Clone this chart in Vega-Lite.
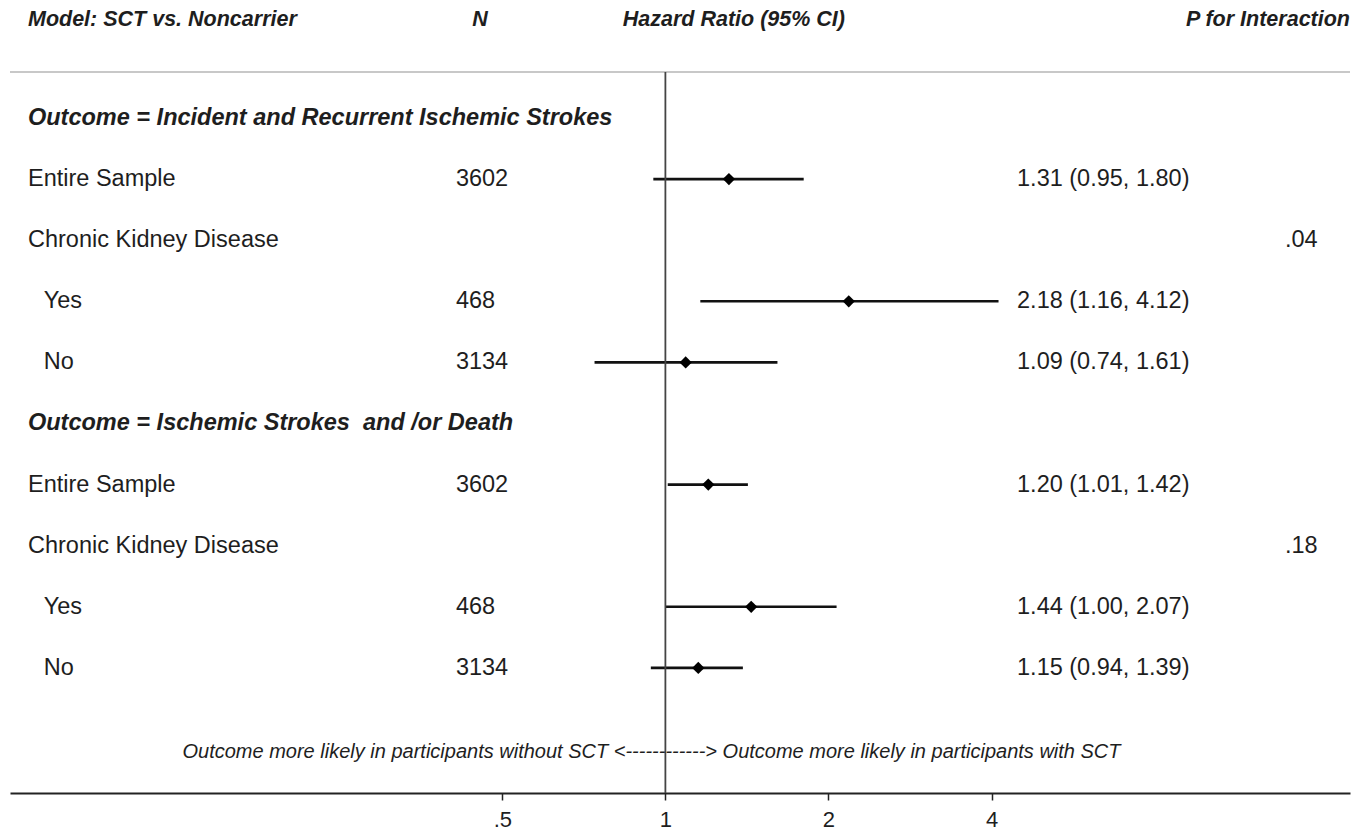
{
  "$schema": "https://vega.github.io/schema/vega-lite/v6.json",
  "autosize": {"type": "none"},
  "padding": {"left": 10, "right": 19, "top": 0, "bottom": 38},
  "width": 1340,
  "height": 793,
  "background": "white",
  "config": {
    "view": {"stroke": null},
    "font": "Liberation Sans",
    "text": {"font": "Liberation Sans", "color": "#1e1e1e", "baseline": "middle", "fontWeight": "normal"},
    "axis": {"grid": false}
  },
  "data": {
    "values": [
      {"row": 1, "label": "Outcome = Incident and Recurrent Ischemic Strokes", "kind": "outcome"},
      {"row": 2, "label": "Entire Sample", "kind": "group", "N": 3602, "hr": 1.31, "lo": 0.95, "hi": 1.80, "ci": "1.31 (0.95, 1.80)"},
      {"row": 3, "label": "Chronic Kidney Disease", "kind": "group", "p": ".04"},
      {"row": 4, "label": "Yes", "kind": "sub", "N": 468, "hr": 2.18, "lo": 1.16, "hi": 4.12, "ci": "2.18 (1.16, 4.12)"},
      {"row": 5, "label": "No", "kind": "sub", "N": 3134, "hr": 1.09, "lo": 0.74, "hi": 1.61, "ci": "1.09 (0.74, 1.61)"},
      {"row": 6, "label": "Outcome = Ischemic Strokes\u00a0 and /or Death", "kind": "outcome"},
      {"row": 7, "label": "Entire Sample", "kind": "group", "N": 3602, "hr": 1.20, "lo": 1.01, "hi": 1.42, "ci": "1.20 (1.01, 1.42)"},
      {"row": 8, "label": "Chronic Kidney Disease", "kind": "group", "p": ".18"},
      {"row": 9, "label": "Yes", "kind": "sub", "N": 468, "hr": 1.44, "lo": 1.00, "hi": 2.07, "ci": "1.44 (1.00, 2.07)"},
      {"row": 10, "label": "No", "kind": "sub", "N": 3134, "hr": 1.15, "lo": 0.94, "hi": 1.39, "ci": "1.15 (0.94, 1.39)"}
    ]
  },
  "encoding": {
    "y": {
      "field": "row",
      "type": "quantitative",
      "scale": {"domain": [-0.9313, 12.0475], "nice": false, "zero": false, "reverse": true},
      "axis": null
    }
  },
  "layer": [
    {
      "transform": [{"filter": {"field": "hr", "valid": true}}],
      "mark": {"type": "rule", "color": "#111111", "strokeWidth": 2.6},
      "encoding": {
        "x": {
          "field": "lo",
          "type": "quantitative",
          "scale": {"type": "log", "base": 2, "domain": [0.0617, 18.35], "nice": false},
          "axis": {
            "orient": "bottom",
            "values": [0.5, 1, 2, 4],
            "labelExpr": "datum.value == 0.5 ? '.5' : toString(datum.value)",
            "title": null,
            "domainColor": "#222222",
            "domainWidth": 2,
            "tickColor": "#222222",
            "tickWidth": 1.5,
            "tickSize": 7,
            "labelFontSize": 22,
            "labelFont": "Liberation Sans",
            "labelColor": "#1e1e1e",
            "labelPadding": 9,
            "labelFlush": false,
            "labelOverlap": false
          }
        },
        "x2": {"field": "hi"}
      }
    },
    {
      "transform": [{"filter": {"field": "row", "equal": 1}}],
      "mark": {"type": "rule", "color": "#c8c8c8", "strokeWidth": 2},
      "encoding": {
        "y": {"datum": 0.247}
      }
    },
    {
      "transform": [{"filter": {"field": "row", "equal": 1}}],
      "mark": {"type": "rule", "color": "#444444", "strokeWidth": 1.8},
      "encoding": {
        "x": {"datum": 1},
        "y": {"datum": 0.247},
        "y2": {"datum": 12.0475}
      }
    },
    {
      "transform": [{"filter": {"field": "hr", "valid": true}}],
      "mark": {"type": "point", "shape": "diamond", "filled": true, "color": "#000000", "size": 150, "opacity": 1},
      "encoding": {
        "x": {"field": "hr", "type": "quantitative"}
      }
    },
    {
      "transform": [{"filter": {"field": "kind", "equal": "outcome"}}],
      "mark": {"type": "text", "align": "left", "fontSize": 23.5, "fontWeight": "bold", "fontStyle": "italic"},
      "encoding": {
        "x": {"datum": 0.0666},
        "text": {"field": "label"}
      }
    },
    {
      "transform": [{"filter": {"field": "kind", "equal": "group"}}],
      "mark": {"type": "text", "align": "left", "fontSize": 23.5},
      "encoding": {
        "x": {"datum": 0.0666},
        "text": {"field": "label"}
      }
    },
    {
      "transform": [{"filter": {"field": "kind", "equal": "sub"}}],
      "mark": {"type": "text", "align": "left", "fontSize": 23.5},
      "encoding": {
        "x": {"datum": 0.0712},
        "text": {"field": "label"}
      }
    },
    {
      "transform": [{"filter": {"field": "N", "valid": true}}],
      "mark": {"type": "text", "align": "left", "fontSize": 23.5},
      "encoding": {
        "x": {"datum": 0.4105},
        "text": {"field": "N", "type": "nominal"}
      }
    },
    {
      "transform": [{"filter": {"field": "hr", "valid": true}}],
      "mark": {"type": "text", "align": "left", "fontSize": 23.5},
      "encoding": {
        "x": {"datum": 4.457},
        "text": {"field": "ci"}
      }
    },
    {
      "transform": [{"filter": {"field": "p", "valid": true}}],
      "mark": {"type": "text", "align": "left", "fontSize": 23.5},
      "encoding": {
        "x": {"datum": 13.92},
        "text": {"field": "p"}
      }
    },
    {
      "transform": [{"filter": {"field": "row", "equal": 1}}],
      "mark": {"type": "text", "align": "left", "fontSize": 21.5, "fontWeight": "bold", "fontStyle": "italic", "text": "Model: SCT vs. Noncarrier"},
      "encoding": {"x": {"datum": 0.0666}, "y": {"datum": -0.604}}
    },
    {
      "transform": [{"filter": {"field": "row", "equal": 1}}],
      "mark": {"type": "text", "align": "center", "fontSize": 21.5, "fontWeight": "bold", "fontStyle": "italic", "text": "N"},
      "encoding": {"x": {"datum": 0.455}, "y": {"datum": -0.604}}
    },
    {
      "transform": [{"filter": {"field": "row", "equal": 1}}],
      "mark": {"type": "text", "align": "center", "fontSize": 21.5, "fontWeight": "bold", "fontStyle": "italic", "text": "Hazard Ratio (95% CI)"},
      "encoding": {"x": {"datum": 1.338}, "y": {"datum": -0.604}}
    },
    {
      "transform": [{"filter": {"field": "row", "equal": 1}}],
      "mark": {"type": "text", "align": "right", "fontSize": 21.5, "fontWeight": "bold", "fontStyle": "italic", "text": "P for Interaction"},
      "encoding": {"x": {"datum": 18.35}, "y": {"datum": -0.604}}
    },
    {
      "transform": [{"filter": {"field": "row", "equal": 1}}],
      "mark": {"type": "text", "align": "right", "fontSize": 20, "fontStyle": "italic", "fontWeight": 400, "text": "Outcome more likely in participants without SCT <------"},
      "encoding": {"x": {"datum": 1}, "y": {"datum": 11.377}}
    },
    {
      "transform": [{"filter": {"field": "row", "equal": 1}}],
      "mark": {"type": "text", "align": "left", "fontSize": 20, "fontStyle": "italic", "fontWeight": 400, "text": "------> Outcome more likely in participants with SCT"},
      "encoding": {"x": {"datum": 1}, "y": {"datum": 11.377}}
    }
  ]
}
